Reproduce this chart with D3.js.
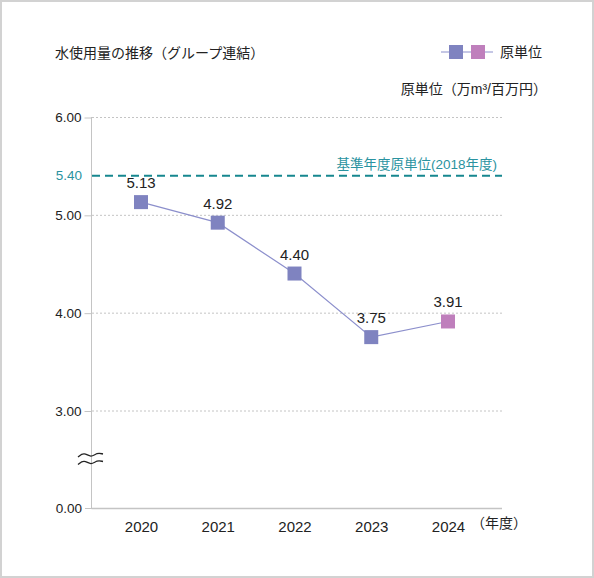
<!DOCTYPE html>
<html>
<head>
<meta charset="utf-8">
<script src="https://cdn.jsdelivr.net/npm/d3@7"></script>
<style>
  body { margin: 0; background: #fff; }
  svg text { font-family: "Liberation Sans", Arial, "Noto Sans CJK JP", sans-serif; }
</style>
</head>
<body>
<svg id="chart"></svg>
<script>
// --------------------- data --------------------------
const years = ["2020", "2021", "2022", "2023", "2024"];
const intensity = [5.13, 4.92, 4.40, 3.75, 3.91];
const yTicks = [6, 5, 4, 3];
const baseValue = 5.40;
const baseLabel = "基準年度原単位(2018年度)";
const titleText = "水使用量の推移（グループ連結）";
const unitText = "原単位（万m³/百万円）";
const legendText = "原単位";

const width = 594, height = 578;
const blue = "#7f83c0", pink = "#bf7fbc", lineColor = "#8c8fcc", teal = "#16878f";

const svg = d3.select("#chart")
  .attr("width", width)
  .attr("height", height);

// outer frame
svg.append("rect")
  .attr("x", 1).attr("y", 1)
  .attr("width", width - 2).attr("height", height - 2)
  .attr("fill", "#fff")
  .attr("stroke", "#d2d2d2")
  .attr("stroke-width", 2);

// scales: upper part 3..6 linear, 0.00 sits on the broken baseline
const yScale = d3.scaleLinear().domain([3, 6]).range([410.5, 117]);
const yZero = 508.5;
const xScale = d3.scalePoint().domain(years).range([141, 448]);
const xLeft = 92, xRight = 502;

// ---------------------- grid & axes ---------------------------
svg.append("g").selectAll("line")
  .data(yTicks)
  .join("line")
  .attr("x1", xLeft).attr("x2", xRight)
  .attr("y1", d => yScale(d) + 0.5).attr("y2", d => yScale(d) + 0.5)
  .attr("stroke", "#c4c4c4")
  .attr("stroke-dasharray", "2,2");

// y axis with tick labels
const yAxis = d3.axisLeft(yScale)
  .tickValues(yTicks)
  .tickFormat(d3.format(".2f"))
  .tickSize(7)
  .tickSizeOuter(0);
const yg = svg.append("g")
  .attr("transform", "translate(" + (xLeft - 0.5) + ",0.5)")
  .call(yAxis);
yg.select(".domain").remove();
yg.selectAll(".tick line").attr("stroke", "#c4c4c4");
yg.selectAll(".tick text")
  .attr("x", -10)
  .attr("fill", "#222")
  .style("font-size", "13.5px");

// zero tick
svg.append("line")
  .attr("x1", xLeft - 7).attr("x2", xLeft)
  .attr("y1", yZero).attr("y2", yZero)
  .attr("stroke", "#c4c4c4");
svg.append("text")
  .attr("x", xLeft - 10).attr("y", yZero)
  .attr("dy", "0.35em")
  .attr("text-anchor", "end")
  .attr("fill", "#222")
  .style("font-size", "13.5px")
  .text("0.00");

// vertical axis line and baseline
svg.append("line")
  .attr("x1", xLeft - 0.5).attr("x2", xLeft - 0.5)
  .attr("y1", yScale(6)).attr("y2", yZero)
  .attr("stroke", "#c4c4c4");
svg.append("line")
  .attr("x1", xLeft - 0.5).attr("x2", xRight)
  .attr("y1", yZero).attr("y2", yZero)
  .attr("stroke", "#c4c4c4")
  .attr("stroke-width", 1.5);

// break mark (two waves)
const wave = d3.line().curve(d3.curveBasis);
[455, 462.5].forEach(function(y0) {
  svg.append("path")
    .attr("d", wave([[78, y0 + 2], [84, y0 - 3], [91, y0 + 3], [97, y0 - 2.5], [103, y0 - 1]]))
    .attr("fill", "none")
    .attr("stroke", "#222")
    .attr("stroke-width", 1.3);
});

// x axis labels
const xAxis = d3.axisBottom(xScale).tickSize(0);
const xg = svg.append("g")
  .attr("transform", "translate(0," + yZero + ")")
  .call(xAxis);
xg.select(".domain").remove();
xg.selectAll(".tick text")
  .attr("y", 13)
  .attr("fill", "#222")
  .style("font-size", "15px");

svg.append("text")
  .attr("x", 471).attr("y", 528)
  .attr("fill", "#222")
  .style("font-size", "14px")
  .text("（年度）");

// ---------------------- base year line ---------------------------
svg.append("line")
  .attr("x1", xLeft).attr("x2", xRight)
  .attr("y1", yScale(baseValue)).attr("y2", yScale(baseValue))
  .attr("stroke", teal)
  .attr("stroke-width", 2)
  .attr("stroke-dasharray", "8,5");
svg.append("text")
  .attr("x", xLeft - 10).attr("y", yScale(baseValue))
  .attr("dy", "0.35em")
  .attr("text-anchor", "end")
  .attr("fill", "#2a93a0")
  .style("font-size", "13.5px")
  .text(baseValue.toFixed(2));
svg.append("text")
  .attr("x", 497).attr("y", yScale(baseValue) - 7)
  .attr("text-anchor", "end")
  .attr("fill", "#2a93a0")
  .style("font-size", "13.5px")
  .text(baseLabel);

// ---------------------- series ---------------------------
const pts = years.map((y, i) => ({ year: y, v: intensity[i], last: i === years.length - 1 }));

svg.append("path")
  .datum(pts)
  .attr("d", d3.line().x(d => xScale(d.year)).y(d => yScale(d.v)))
  .attr("fill", "none")
  .attr("stroke", lineColor)
  .attr("stroke-width", 1.2);

svg.append("g").selectAll("rect")
  .data(pts)
  .join("rect")
  .attr("x", d => xScale(d.year) - 7)
  .attr("y", d => yScale(d.v) - 7)
  .attr("width", 14).attr("height", 14)
  .attr("fill", d => d.last ? pink : blue);

svg.append("g").selectAll("text")
  .data(pts)
  .join("text")
  .attr("x", d => xScale(d.year))
  .attr("y", d => yScale(d.v) - 14)
  .attr("text-anchor", "middle")
  .attr("fill", "#222")
  .style("font-size", "15px")
  .text(d => d.v.toFixed(2));

// ---------------------- titles & legend ---------------------------
svg.append("text")
  .attr("x", 55).attr("y", 58)
  .attr("fill", "#222")
  .style("font-size", "14px")
  .text(titleText);

svg.append("line")
  .attr("x1", 441).attr("x2", 493)
  .attr("y1", 52).attr("y2", 52)
  .attr("stroke", lineColor)
  .attr("stroke-width", 1.2);
svg.append("rect")
  .attr("x", 449).attr("y", 45).attr("width", 14).attr("height", 14)
  .attr("fill", blue);
svg.append("rect")
  .attr("x", 471).attr("y", 45).attr("width", 14).attr("height", 14)
  .attr("fill", pink);
svg.append("text")
  .attr("x", 500).attr("y", 57)
  .attr("fill", "#222")
  .style("font-size", "14px")
  .text(legendText);

svg.append("text")
  .attr("x", 547).attr("y", 94)
  .attr("text-anchor", "end")
  .attr("fill", "#222")
  .style("font-size", "14px")
  .text(unitText);
</script>
</body>
</html>
